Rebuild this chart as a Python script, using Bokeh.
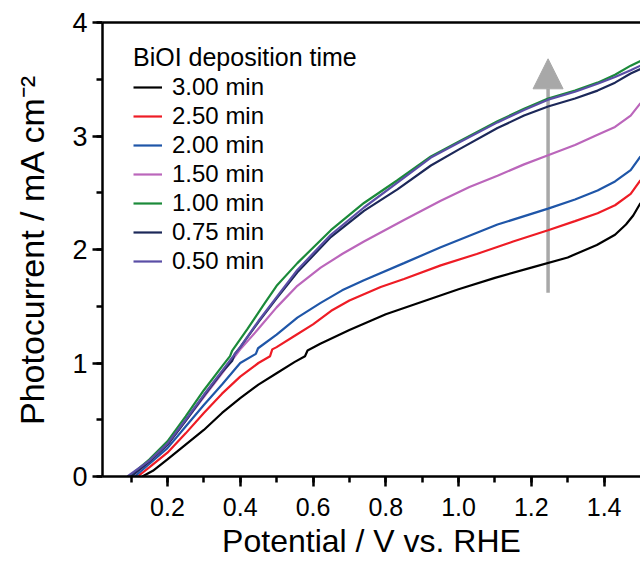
from bokeh.plotting import figure
from bokeh.models import (Legend, LegendItem, LinearAxis, FixedTicker, SingleIntervalTicker,
                          NumeralTickFormatter, Arrow, NormalHead, Range1d)
from bokeh.embed import file_html
from bokeh.resources import INLINE

FONT = "Liberation Sans"

# ---------------- data ----------------
labels = ["3.00 min", "2.50 min", "2.00 min", "1.50 min", "1.00 min", "0.75 min", "0.50 min"]
colors = ["#000000", "#ee1c25", "#1f56a8", "#bb66bb", "#1b8a3a", "#1c2859", "#5a4ea6"]

x_300 = [0.131, 0.16, 0.2, 0.25, 0.3, 0.35, 0.4, 0.45, 0.5, 0.55, 0.578, 0.585, 0.62, 0.7, 0.8,
         0.9, 1.0, 1.1, 1.2, 1.3, 1.38, 1.43, 1.46, 1.48, 1.5]
y_300 = [0.0, 0.05, 0.15, 0.28, 0.41, 0.56, 0.69, 0.81, 0.91, 1.01, 1.06, 1.11, 1.17, 1.29, 1.43,
         1.54, 1.65, 1.75, 1.84, 1.93, 2.04, 2.13, 2.22, 2.30, 2.41]

x_250 = [0.118, 0.15, 0.2, 0.25, 0.3, 0.35, 0.4, 0.45, 0.482, 0.488, 0.5, 0.55, 0.6, 0.65, 0.7,
         0.786, 0.85, 0.951, 1.05, 1.15, 1.246, 1.32, 1.382, 1.43, 1.473, 1.5]
y_250 = [0.0, 0.08, 0.21, 0.38, 0.56, 0.73, 0.88, 1.0, 1.06, 1.12, 1.14, 1.24, 1.34, 1.46, 1.55,
         1.67, 1.74, 1.86, 1.96, 2.07, 2.17, 2.25, 2.32, 2.39, 2.49, 2.61]

x_200 = [0.11, 0.15, 0.2, 0.25, 0.3, 0.35, 0.4, 0.443, 0.449, 0.5, 0.557, 0.621, 0.68, 0.74, 0.85,
         0.951, 1.107, 1.246, 1.32, 1.382, 1.43, 1.473, 1.5]
y_200 = [0.0, 0.11, 0.25, 0.44, 0.63, 0.81, 1.0, 1.08, 1.13, 1.25, 1.40, 1.53, 1.64, 1.73, 1.88,
         2.02, 2.22, 2.36, 2.44, 2.52, 2.60, 2.70, 2.82]

x_150 = [0.1, 0.15, 0.2, 0.25, 0.3, 0.35, 0.4, 0.447, 0.5, 0.557, 0.621, 0.68, 0.74, 0.85, 0.951,
         1.03, 1.107, 1.18, 1.246, 1.32, 1.382, 1.43, 1.473, 1.5]
y_150 = [0.0, 0.13, 0.28, 0.49, 0.70, 0.91, 1.12, 1.29, 1.49, 1.68, 1.84, 1.96, 2.07, 2.26, 2.43,
         2.55, 2.65, 2.75, 2.83, 2.92, 3.01, 3.08, 3.18, 3.29]

x_100 = [0.095, 0.15, 0.2, 0.25, 0.3, 0.35, 0.372, 0.378, 0.42, 0.466, 0.5, 0.557, 0.649, 0.74,
         0.832, 0.924, 1.0, 1.107, 1.18, 1.246, 1.32, 1.382, 1.43, 1.473, 1.5]
y_100 = [0.0, 0.15, 0.31, 0.53, 0.76, 0.97, 1.06, 1.11, 1.30, 1.52, 1.68, 1.88, 2.17, 2.41,
         2.61, 2.82, 2.95, 3.13, 3.24, 3.33, 3.40, 3.47, 3.54, 3.62, 3.66]

x_075 = [0.1, 0.15, 0.2, 0.25, 0.3, 0.35, 0.378, 0.385, 0.4, 0.45, 0.5, 0.557, 0.649, 0.74, 0.832,
         0.924, 1.0, 1.107, 1.18, 1.246, 1.32, 1.382, 1.43, 1.473, 1.5]
y_075 = [0.0, 0.13, 0.28, 0.49, 0.71, 0.92, 1.02, 1.08, 1.14, 1.36, 1.57, 1.80, 2.11, 2.34, 2.53,
         2.74, 2.88, 3.07, 3.18, 3.26, 3.33, 3.40, 3.47, 3.55, 3.59]

x_050 = [0.09, 0.15, 0.2, 0.25, 0.3, 0.35, 0.383, 0.4, 0.45, 0.5, 0.557, 0.649, 0.74, 0.832, 0.924,
         1.0, 1.107, 1.18, 1.246, 1.32, 1.382, 1.43, 1.473, 1.5]
y_050 = [0.0, 0.14, 0.29, 0.50, 0.72, 0.93, 1.07, 1.14, 1.37, 1.58, 1.82, 2.13, 2.37, 2.59, 2.81,
         2.94, 3.12, 3.23, 3.32, 3.39, 3.46, 3.52, 3.58, 3.62]

xs = [x_300, x_250, x_200, x_150, x_100, x_075, x_050]
ys = [y_300, y_250, y_200, y_150, y_100, y_075, y_050]

# trend arrow (data coordinates: start -> end)
arrow_x = [1.246, 1.246]
arrow_y = [1.62, 3.68]

x_title = "Potential / V vs. RHE"
y_title = "Photocurrent / mA cm\u207b\u00b2"

# ---------------- figure ----------------
p = figure(width=640, height=561, output_backend="svg", toolbar_location=None,
           x_range=Range1d(0.0215, 1.5), y_range=Range1d(0, 4),
           min_border_left=102, min_border_right=0, min_border_top=22, min_border_bottom=84)
p.outline_line_color = None
p.grid.visible = False
p.background_fill_color = "white"
p.border_fill_color = "white"

arrow = Arrow(end=NormalHead(size=30, fill_color="#a8a8a8", line_color="#a8a8a8", line_width=1),
              x_start=arrow_x[0], y_start=arrow_y[0], x_end=arrow_x[1], y_end=arrow_y[1],
              line_color="#a8a8a8", line_width=3.5, level="underlay")
p.add_layout(arrow)

renderers = []
for x, y, c in zip(xs, ys, colors):
    r = p.line(x, y, line_color=c, line_width=2.2)
    renderers.append(r)

def style_axis(ax):
    ax.axis_line_width = 2.5
    ax.axis_line_color = "black"
    ax.major_tick_line_width = 2.5
    ax.minor_tick_line_width = 2.5
    ax.major_tick_line_color = "black"
    ax.minor_tick_line_color = "black"
    ax.major_tick_in = 0
    ax.major_tick_out = 10
    ax.minor_tick_in = 0
    ax.minor_tick_out = 6
    ax.major_label_text_font = FONT
    ax.major_label_text_color = "black"
    ax.axis_label_text_font = FONT
    ax.axis_label_text_font_style = "normal"
    ax.axis_label_text_color = "black"

xa = p.xaxis[0]
style_axis(xa)
xa.ticker = SingleIntervalTicker(interval=0.2, num_minor_ticks=2)
xa.formatter = NumeralTickFormatter(format="0.0")
xa.major_label_text_font_size = "25px"
xa.major_label_standoff = 11
xa.axis_label = x_title
xa.axis_label_text_font_size = "32px"
xa.axis_label_standoff = 4

ya = p.yaxis[0]
style_axis(ya)
ya.ticker = SingleIntervalTicker(interval=1, num_minor_ticks=2)
ya.major_label_text_font_size = "27px"
ya.major_label_standoff = 5
ya.axis_label = y_title
ya.axis_label_text_font_size = "34px"
ya.axis_label_standoff = 18

top = LinearAxis(ticker=FixedTicker(ticks=[]), axis_line_width=2.5, axis_line_color="black",
                 major_label_text_font_size="0px", major_tick_out=0, minor_tick_out=0,
                 major_label_standoff=0)
p.add_layout(top, "above")

legend = Legend(items=[LegendItem(label=l, renderers=[r]) for l, r in zip(labels, renderers)],
                location=(31, 201), padding=0, margin=0,
                border_line_color=None, background_fill_alpha=0,
                title="BiOI deposition time", title_text_font=FONT, title_text_font_size="25px",
                title_text_font_style="normal", title_text_color="black", title_standoff=1,
                label_text_font=FONT, label_text_font_size="24px", label_text_color="black",
                glyph_width=29, glyph_height=26, label_height=26, label_standoff=10, spacing=1)
p.add_layout(legend)

open("out.html", "w").write(file_html(p, INLINE))
